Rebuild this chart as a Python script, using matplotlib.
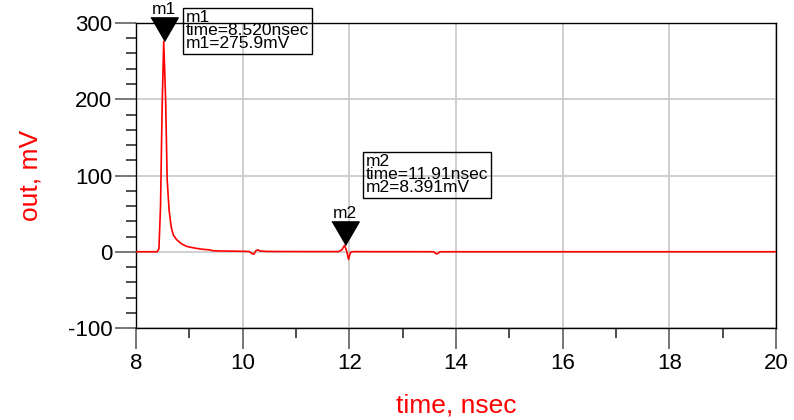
import matplotlib
matplotlib.use("Agg")
import matplotlib.pyplot as plt
from matplotlib.ticker import MultipleLocator

plt.rcParams['font.family'] = ['Liberation Sans', 'DejaVu Sans']
plt.rcParams['axes.unicode_minus'] = False

# transient at node "out"
time_ns = [8.00, 8.40, 8.43, 8.46, 8.49, 8.52, 8.555, 8.585, 8.62, 8.65, 8.665,
           8.70, 8.76, 8.85, 8.95, 9.05, 9.13, 9.25, 9.38, 9.44, 9.60, 9.80,
           10.00, 10.12, 10.18, 10.21, 10.25, 10.28, 10.33, 10.45, 10.80,
           11.30, 11.80, 11.86, 11.91, 11.95, 11.985, 12.02, 12.07, 12.50,
           13.00, 13.58, 13.63, 13.66, 13.70, 14.00, 16.00, 18.00, 20.00]
out_mv = [0.0, 0.0, 4.0, 60.0, 190.0, 275.9, 200.0, 94.0, 55.0, 38.0, 31.0,
          22.0, 16.0, 10.5, 7.0, 5.5, 4.5, 3.2, 2.5, 1.3, 1.0, 0.8,
          0.6, 0.3, -2.5, -3.2, 1.5, 2.5, 1.0, 0.4, 0.3,
          0.2, 0.2, 2.5, 8.391, 1.0, -10.0, -1.0, 0.2, 0.1,
          0.1, 0.0, -2.8, -2.2, 0.0, 0.0, 0.0, 0.0, 0.0]

marker_names = ["m1", "m2"]
marker_time = [8.520, 11.91]
marker_val = [275.9, 8.391]
marker_time_txt = ["8.520nsec", "11.91nsec"]
marker_val_txt = ["275.9mV", "8.391mV"]
box_offset = [(22, 31), (21, 91)]   # readout box offset in pixels from marker tip

fig = plt.figure(figsize=(7.94, 4.20), dpi=100)
ax = fig.add_axes([136 / 794, 1 - 328 / 420, 640 / 794, 305 / 420])

ax.plot(time_ns, out_mv, color='red', lw=1.2, zorder=3)

ax.set_xlim(8, 20)
ax.set_ylim(-100, 300)
ax.xaxis.set_major_locator(MultipleLocator(2))
ax.xaxis.set_minor_locator(MultipleLocator(1))
ax.yaxis.set_major_locator(MultipleLocator(100))
ax.yaxis.set_minor_locator(MultipleLocator(20))
ax.grid(True, which='major', color='#c8c8c8', lw=1.2, zorder=0)
ax.tick_params(which='major', direction='out', length=15, width=1.2,
               color='#606060', labelsize=16, pad=2)
ax.tick_params(which='minor', direction='out', length=7, width=1.2, color='#303030')
ax.tick_params(axis='x', which='major', pad=3)
for s in ax.spines.values():
    s.set_color('black')
    s.set_linewidth(1.0)

ax.set_xlabel("time, nsec", color='red', fontsize=19, labelpad=14)
ax.set_ylabel("out, mV", color='red', fontsize=19, labelpad=18)

# marker tip sits on the trace: downward triangle with its point at the origin
tri = [(-0.58, 1.0), (0.58, 1.0), (0.0, 0.0)]
for name, t, v, ttxt, vtxt, off in zip(marker_names, marker_time, marker_val,
                                        marker_time_txt, marker_val_txt, box_offset):
    ax.plot([t], [v], marker=tri, markersize=34, color='black', zorder=5, clip_on=False)
    ax.annotate(name, (t, v), xytext=(0, 24), textcoords='offset pixels',
                ha='center', va='bottom', fontsize=12.5, annotation_clip=False)
    ax.annotate(f"{name}\ntime={ttxt}\n{name}={vtxt}", (t, v), xytext=off,
                textcoords='offset pixels', ha='left', va='top', fontsize=12.5,
                linespacing=0.82, annotation_clip=False,
                bbox=dict(boxstyle='square,pad=0.15', fc='none', ec='black', lw=1))

fig.savefig("out.png", dpi=100)
